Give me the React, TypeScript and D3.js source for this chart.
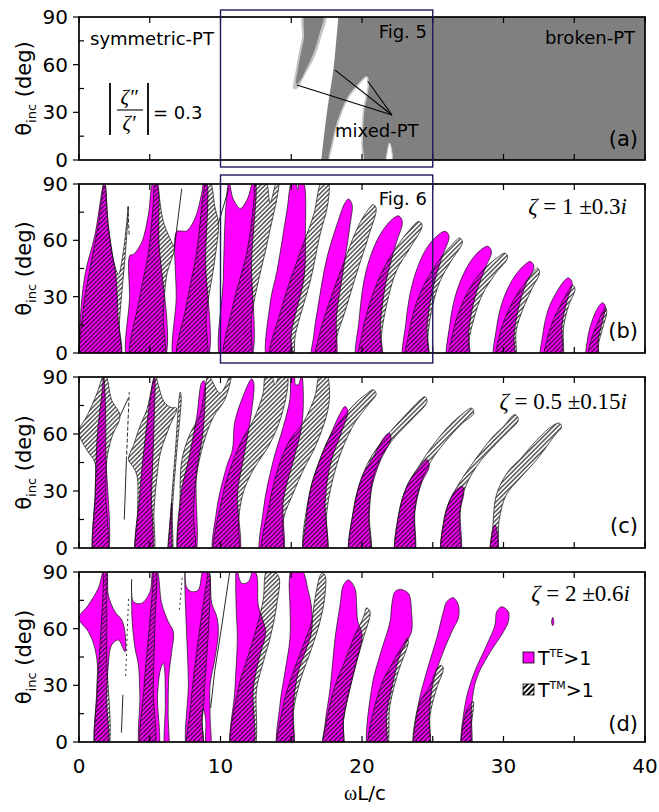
import React from 'react';
import * as d3 from 'd3';

type Pt = [number, number];

// axes
const xTickValues = [0, 10, 20, 30, 40];
const xMinorTicks = [0, 5, 10, 15, 20, 25, 30, 35, 40];
const yTickValues = [0, 30, 60, 90];
const yMinorTicks = [15, 45, 75];
const panelNames = ['(a)', '(b)', '(c)', '(d)'];

// panel (a): PT phase map
const brokenEdge: Pt[] = [[18.35, 92], [18.15, 72], [17.95, 55], [17.6, 35], [17.35, 18], [17.1, -2]];
const mixedArch: Pt[] = [[17.74, -3], [17.9, 10], [18.3, 24], [19.0, 39], [19.7, 47], [20.33, 52.4], [20.45, 48], [20.1, 30], [20.0, 10], [19.98, -3]];
const mixedSliver: Pt[] = [[21.74, -3], [21.8, 6], [21.95, 10.7], [22.1, 6], [22.1, -3]];
const brokenSliverEdge: Pt[] = [[15.85, 92], [15.75, 77], [15.5, 66], [15.3, 55.6], [15.15, 45], [15.35, 44.5], [16.1, 55.6], [16.7, 66], [17.1, 77], [17.45, 92]];
const brokenSliverCore: Pt[] = [[16.0, 92], [15.9, 77], [15.65, 66], [15.45, 56], [15.35, 48], [15.55, 49], [16.1, 58], [16.6, 68], [16.95, 78], [17.25, 92]];
const mixedLabelPoint: Pt = [22.12, 28.3];
const mixedTargets: Pt[] = [[15.4, 47.2], [18.1, 56.6], [20.4, 49.7]];

// panel (b): zeta = 1 +- 0.3i
const teB: Pt[][] = [
  [[0.07, -6], [0.07, 15], [0.42, 41.5], [1.13, 63], [1.8, 91], [2.07, 68], [2.42, 50], [2.6, 42], [2.75, 20], [2.8, -6]],
  [[3.56, -6], [3.57, 30], [3.6, 52], [3.84, 52.5], [4.43, 59], [4.9, 73.5], [5.25, 91], [5.5, 91], [5.65, 60], [5.87, -6]],
  [[6.85, -6], [6.87, 30], [6.9, 64.6], [7.2, 65], [7.6, 65], [8.2, 71.7], [8.67, 85], [8.83, 91], [9.0, 91], [8.95, 50], [8.9, -6]],
  [[10.15, -6], [10.2, 40], [10.4, 80], [10.6, 91], [10.9, 82], [11.4, 77], [11.9, 82], [12.3, 91], [12.45, 91], [12.2, 50], [11.97, -6]],
  [[13.4, -6], [13.5, 26], [14.0, 44], [14.7, 76], [15.05, 91], [15.3, 91], [15.45, 87], [15.6, 91], [15.85, 91], [16.0, 62], [15.9, 40], [15.0, 10], [15.0, -6]],
  [[16.5, -6], [16.6, 10], [16.9, 25], [17.5, 50], [18.3, 70], [18.8, 80], [19.05, 82], [19.3, 79], [19.15, 68], [18.7, 45], [18.2, 20], [18.0, -6]],
  [[19.7, -6], [19.8, 18], [20.3, 44], [21.2, 62], [22.1, 71], [22.6, 73], [22.85, 70], [22.4, 58], [21.7, 38], [21.3, 15], [21.3, -6]],
  [[23.0, -6], [23.1, 16], [23.6, 38], [24.5, 55], [25.4, 63], [25.9, 64.8], [26.15, 62], [25.7, 52], [25.0, 34], [24.6, 14], [24.6, -6]],
  [[26.1, -6], [26.2, 15], [26.7, 33], [27.6, 48], [28.4, 55], [28.9, 56.8], [29.15, 54], [28.7, 45], [28.0, 30], [27.55, 12], [27.5, -6]],
  [[29.4, -6], [29.5, 13], [30.0, 29], [30.8, 41], [31.5, 47], [31.9, 48.8], [32.15, 46], [31.6, 37], [31.1, 25], [30.75, 10], [30.7, -6]],
  [[32.7, -6], [32.8, 11], [33.2, 24], [33.8, 33], [34.3, 38.5], [34.6, 40], [34.85, 37.5], [34.5, 28], [34.15, 16], [34.0, -6]],
  [[35.9, -6], [35.95, 8], [36.3, 18], [36.7, 24.5], [37.0, 26.7], [37.2, 25], [37.0, 17], [36.7, 7], [36.65, -6]],
];
const tmB: Pt[][] = [
  [[0.3, -6], [0.3, 23], [0.78, 45], [1.36, 68], [1.8, 91], [2.07, 68], [2.42, 50], [2.78, 42], [3.15, 55], [3.49, 78], [3.3, 55], [3.0, 30], [2.85, 15], [2.8, -6]],
  [[3.72, -6], [4.3, 30], [4.9, 53], [5.25, 80], [5.35, 91], [5.55, 88], [5.96, 70], [6.55, 59], [6.74, 56], [6.2, 41.5], [5.96, 20], [5.89, -6]],
  [[7.0, -6], [7.6, 26], [8.3, 53], [8.8, 86], [8.95, 91], [9.26, 91], [9.6, 78], [9.85, 69], [9.6, 50], [9.0, 20], [8.9, -6]],
  [[10.3, -6], [10.9, 26], [11.85, 53], [12.35, 80], [12.5, 91], [13.2, 91], [13.5, 80], [13.97, 91], [14.1, 91], [13.4, 62], [12.7, 39], [12.2, 20], [11.97, -6]],
  [[13.5, -6], [14.4, 26], [15.6, 53], [16.6, 74], [17.15, 91], [17.6, 91], [17.6, 80], [17.0, 62], [16.4, 40], [15.3, 10], [15.0, -6]],
  [[16.7, -6], [17.0, 10], [17.6, 25], [18.8, 50], [19.7, 67], [20.4, 76], [20.8, 79], [21.0, 77], [20.5, 63], [19.6, 42], [18.8, 22], [18.2, 8], [18.0, -6]],
  [[19.8, -6], [20.0, 10], [20.7, 30], [21.6, 46], [22.5, 57], [23.3, 65], [24.0, 70], [24.25, 68], [23.4, 56], [22.45, 44], [21.75, 26], [21.35, 8], [21.3, -6]],
  [[23.1, -6], [23.3, 10], [23.9, 28], [24.8, 42], [25.7, 52], [26.4, 58], [26.9, 61.3], [27.1, 59], [26.3, 49], [25.5, 38], [24.9, 22], [24.65, 8], [24.6, -6]],
  [[26.2, -6], [26.4, 10], [27.0, 25], [27.9, 38], [28.8, 46], [29.6, 51], [30.1, 53.2], [30.3, 51], [29.4, 42], [28.5, 31], [27.9, 18], [27.55, 6], [27.5, -6]],
  [[29.5, -6], [29.7, 9], [30.3, 22], [31.1, 33], [31.8, 40], [32.4, 45.2], [32.55, 43], [32.0, 34], [31.4, 24], [30.9, 12], [30.75, -6]],
  [[32.9, -6], [33.1, 8], [33.6, 19], [34.2, 28], [34.9, 36.2], [35.05, 34], [34.6, 25], [34.25, 14], [34.05, -6]],
  [[36.0, -6], [36.15, 6], [36.6, 15], [37.2, 24.2], [37.3, 22], [37.0, 13], [36.7, 4], [36.65, -6]],
];
const solidB: Pt[][] = [[[6.74, 56], [7.26, 87.5]], [[9.85, 69], [10.6, 88]]];
const dashedB: Pt[][] = [[[3.45, 78], [3.55, 62]]];

// panel (c): zeta = 0.5 +- 0.15i
const teC: Pt[][] = [
  [[1.13, -6], [1.15, 30], [1.3, 60], [1.6, 80], [1.75, 90], [1.85, 80], [1.9, 50], [1.9, -6]],
  [[4.12, -6], [4.3, 29], [4.78, 64], [5.2, 87], [5.35, 91], [5.3, 64], [5.13, 29], [5.02, -6]],
  [[6.35, -6], [6.42, 12], [6.55, 24], [6.55, 10], [6.5, -6]],
  [[7.14, -6], [7.2, 28], [7.73, 46], [8.32, 69], [8.67, 87], [8.85, 88], [8.8, 64], [8.3, 38], [8.08, -6]],
  [[9.6, -6], [9.73, 20], [10.44, 43], [10.85, 52], [11.0, 66], [11.6, 80], [12.2, 89], [12.35, 87], [12.2, 72], [11.6, 46], [11.2, 29], [11.2, -6]],
  [[12.9, -6], [13.03, 20], [13.73, 46], [14.44, 64], [14.9, 78], [15.03, 91], [15.2, 91], [15.3, 86], [15.5, 86], [15.74, 91], [15.85, 82], [15.74, 64], [15.15, 46], [14.44, 25], [14.3, -6]],
  [[15.97, -6], [16.05, 15], [16.3, 29], [17.0, 46], [17.74, 59], [18.4, 70], [18.8, 74.5], [19.0, 72], [18.5, 60], [17.8, 45], [17.4, 25], [17.4, -6]],
  [[19.2, -6], [19.4, 20], [20.0, 37.5], [20.8, 48], [21.6, 58.6], [21.93, 60.5], [22.05, 57.5], [21.3, 46], [20.7, 32], [20.5, 15], [20.5, -6]],
  [[22.45, -6], [22.6, 18], [23.2, 33], [24.0, 42], [24.6, 46.5], [24.75, 43], [24.2, 34], [23.75, 20], [23.6, -6]],
  [[25.7, -6], [25.8, 15], [26.2, 25], [26.7, 31], [27.1, 32.5], [27.2, 29], [26.95, 20], [26.85, -6]],
  [[29.1, -6], [29.2, 8], [29.4, 12.2], [29.55, 9], [29.5, -6]],
];
const tmC: Pt[][] = [
  [[1.13, -6], [1.15, 30], [1.12, 45], [0.6, 51], [0.0, 61], [0.6, 70], [1.3, 82], [1.75, 91], [1.9, 91], [2.3, 78], [2.9, 69.5], [2.4, 60], [2.19, 55], [1.96, 46], [1.9, 29], [1.9, -6]],
  [[4.12, -6], [4.15, 20], [4.1, 38], [3.8, 43], [3.5, 46.5], [3.9, 55], [4.3, 64], [4.8, 73], [5.25, 88], [5.4, 91], [5.6, 86], [6.0, 77], [6.5, 74], [6.9, 73.5], [6.4, 64], [5.75, 50], [5.5, 37], [5.3, 20], [5.15, -6]],
  [[6.35, -6], [6.5, 20], [6.8, 50], [7.15, 82], [7.22, 80], [6.9, 50], [6.6, 20], [6.55, -6]],
  [[7.14, -6], [7.14, 24], [7.26, 46], [7.84, 60], [8.55, 70], [8.9, 84], [9.14, 91], [9.4, 88], [9.96, 81.5], [10.4, 86], [10.67, 91], [10.75, 91], [10.3, 78], [9.5, 69], [8.8, 55], [8.3, 38], [8.1, 20], [8.08, -6]],
  [[9.65, -6], [10.2, 29], [10.9, 46], [11.6, 58], [12.3, 67], [13.0, 81], [13.2, 91], [13.6, 91], [13.85, 86], [14.2, 91], [14.7, 91], [14.44, 73], [13.5, 55], [12.3, 41], [11.6, 29], [11.27, 14], [11.2, -6]],
  [[13.0, -6], [13.5, 25], [14.2, 45], [15.0, 58], [15.85, 66], [16.68, 80], [17.03, 91], [17.5, 91], [17.7, 84], [17.6, 73], [16.8, 55], [15.85, 41], [15.15, 29], [14.44, 15], [14.3, -6]],
  [[16.0, -6], [16.3, 29], [17.0, 46], [17.74, 59], [18.6, 68], [19.5, 76], [20.3, 81], [20.8, 83.3], [21.0, 81], [20.4, 75], [19.5, 66], [18.6, 52], [17.9, 35], [17.5, 18], [17.4, -6]],
  [[19.2, -6], [19.4, 20], [20.0, 37.5], [20.8, 49.8], [22.0, 61.2], [23.4, 72.6], [24.1, 77.9], [24.45, 79.6], [24.6, 77], [23.6, 68.2], [22.45, 59.5], [21.5, 49.8], [20.8, 37.5], [20.5, 20], [20.5, -6]],
  [[22.45, -6], [22.6, 18], [23.2, 33], [24.1, 44], [25.0, 54], [26.0, 63], [27.0, 70], [27.75, 73.6], [27.9, 71], [27.0, 65], [25.9, 56], [24.9, 46], [24.1, 33], [23.7, 18], [23.6, -6]],
  [[25.7, -6], [25.8, 15], [26.2, 25], [26.7, 32], [27.16, 37.5], [28.34, 50], [29.3, 59], [30.0, 64], [30.8, 70.2], [31.05, 67.4], [30.3, 61], [29.5, 55], [28.1, 43], [27.16, 29], [26.88, 15], [26.85, -6]],
  [[29.1, -6], [29.25, 12], [29.5, 28], [30.3, 40], [31.2, 47], [32.5, 58], [33.4, 64], [33.95, 65.7], [34.1, 63.5], [33.7, 60], [32.4, 47], [31.2, 37], [30.2, 28], [29.7, 15], [29.5, -6]],
];
const solidC: Pt[][] = [[[3.2, 15], [3.35, 46]], [[2.9, 69.5], [3.5, 79]]];
const dashedC: Pt[][] = [[[3.35, 46], [3.55, 82]]];

// panel (d): zeta = 2 +- 0.6i
const teD: Pt[][] = [
  [[1.25, -6], [1.25, 27], [1.3, 40.8], [1.06, 51.3], [0.66, 58.4], [0.0, 65.6], [0.66, 72.5], [1.37, 81.5], [1.77, 91], [1.95, 91], [2.07, 77.8], [2.54, 69], [3.02, 64.6], [3.25, 58], [3.25, 47.8], [2.78, 54], [2.31, 51.3], [2.07, 40.8], [1.96, 23.3], [1.96, -6]],
  [[4.43, -6], [4.3, 25], [4.2, 40.8], [3.96, 49.6], [3.75, 65], [3.72, 78], [3.72, 86], [3.84, 74.3], [4.43, 73.5], [5.02, 79.6], [5.25, 91], [5.49, 91], [5.84, 73.5], [6.31, 63.7], [6.67, 58.4], [6.55, 47.8], [6.35, 35], [6.3, 15], [6.3, -6], [6.1, -6], [6.1, 20], [6.05, 38], [5.96, 41.7], [5.75, 38], [5.55, 25], [5.5, -6]],
  [[7.73, -6], [7.73, 32], [7.6, 58.4], [7.49, 80], [7.49, 91], [7.6, 82], [7.96, 79.6], [8.43, 80.5], [8.79, 91], [9.14, 91], [9.38, 73.5], [9.73, 66.5], [9.85, 58.4], [9.61, 44.3], [9.26, 30], [9.26, 15], [9.26, -6], [9.02, -6], [8.95, 12], [8.79, 17.6], [8.7, 12], [8.67, -6]],
  [[10.84, -6], [11.02, 28], [11.19, 55], [11.1, 72.5], [11.14, 91], [11.5, 84], [11.97, 84.9], [12.32, 91], [12.56, 88.4], [12.67, 72.5], [13.03, 63.7], [13.2, 58], [12.79, 46], [12.32, 28.4], [12.2, -6]],
  [[14.09, -6], [14.2, 19.6], [14.56, 37.2], [14.91, 55], [14.91, 72.5], [14.86, 85], [15.03, 91], [15.74, 91], [16.2, 80], [16.44, 70.8], [16.44, 58.4], [16.09, 49.6], [15.5, 37.2], [15.15, 19.6], [15.03, -6]],
  [[17.3, -6], [17.4, 10], [17.74, 28], [18.1, 55], [18.45, 72.5], [18.68, 83], [19.04, 85.8], [19.5, 81.4], [19.62, 72], [19.7, 64], [20.0, 57], [19.6, 42], [19.15, 28.4], [18.7, 12], [18.56, -6]],
  [[20.52, -6], [20.68, 28.4], [21.27, 46], [21.98, 63.7], [22.1, 72.5], [22.33, 79.6], [22.69, 80.8], [23.28, 78.7], [23.5, 69], [23.5, 58.4], [23.16, 53.1], [22.69, 46], [22.1, 28.4], [21.74, 14.3], [21.63, -6]],
  [[23.75, -6], [23.98, 19.6], [24.57, 37.2], [25.28, 54.9], [25.75, 69], [25.99, 74.3], [26.46, 76.4], [26.81, 72.5], [26.81, 65.5], [26.46, 60.2], [25.75, 47.8], [25.04, 31.9], [24.76, 14.3], [24.69, -6]],
  [[27.1, -6], [27.28, 19.6], [27.87, 35.5], [28.81, 51.3], [29.4, 62], [29.52, 69], [29.87, 71.6], [30.34, 69], [30.34, 63.7], [30.0, 58.4], [28.93, 46], [28.1, 33.7], [27.75, 19.6], [27.63, -6]],
  [[33.4, 63.5], [33.48, 66], [33.56, 63.5], [33.48, 61.5]],
];
const tmD: Pt[][] = [
  [[1.25, -6], [1.3, 28.4], [1.55, 58.4], [1.72, 83], [1.77, 91], [1.9, 91], [1.96, 72.5], [1.96, 46], [1.96, -6]],
  [[4.43, -6], [4.59, 28.4], [4.9, 54.9], [5.2, 81.3], [5.3, 91], [5.44, 91], [5.37, 63.7], [5.25, 28.4], [5.25, -6]],
  [[7.73, -6], [7.9, 20], [8.2, 40.8], [8.67, 67.3], [9.02, 85], [9.15, 91], [9.26, 88], [9.14, 58.4], [8.9, 32], [8.79, 17.6], [8.7, 12], [8.67, -6]],
  [[10.84, -6], [11.26, 28.4], [11.97, 46], [12.67, 63.7], [13.03, 76], [13.15, 88.4], [13.3, 91], [14.09, 88], [13.97, 72.5], [13.5, 54.9], [13.03, 42.5], [12.56, 28.4], [12.25, -6]],
  [[14.09, -6], [14.44, 19.6], [15.15, 37.2], [15.85, 51.3], [16.44, 63.7], [16.68, 76], [17.15, 89.3], [17.38, 88.4], [17.38, 77.8], [17.03, 63.7], [16.44, 49.6], [15.62, 32], [15.15, 16], [15.03, -6]],
  [[17.3, -6], [17.6, 15], [18.1, 30], [18.8, 43], [19.4, 55], [20.1, 66], [20.33, 71], [20.57, 69], [20.1, 55], [19.6, 42], [19.15, 28.4], [18.7, 12], [18.56, -6]],
  [[20.52, -6], [21.27, 28.4], [22.2, 42.5], [23.04, 53.1], [23.2, 54.9], [23.28, 53.1], [22.57, 37.2], [21.98, 19.6], [21.63, -6]],
  [[23.75, -6], [24.0, 19.6], [24.81, 29.8], [25.4, 39.9], [25.63, 40.5], [25.75, 39], [25.28, 28.4], [24.81, 14.3], [24.69, -6]],
  [[27.1, -6], [27.28, 14.3], [27.63, 19.6], [27.87, 21.4], [27.87, 17.8], [27.7, 7.2], [27.63, -6]],
];
const solidD: Pt[][] = [[[3.0, 5], [3.1, 25]], [[9.3, 18], [9.6, 38], [10.1, 62], [10.67, 91]]];
const dashedD: Pt[][] = [[[3.3, 35], [3.5, 76]], [[7.1, 70], [7.3, 88]]];

const MAGENTA = '#ff00ff';
const NAVY = '#1c1c5e';
const SANS = 'DejaVu Sans';
const SERIF = 'Liberation Serif';

const boxes = [
  { top: 17, bottom: 160 },
  { top: 184, bottom: 353 },
  { top: 377, bottom: 548 },
  { top: 572, bottom: 742 },
];

export default function App() {
  const x = d3.scaleLinear().domain([0, 40]).range([79, 645]);
  const ys = boxes.map((b) => d3.scaleLinear().domain([0, 90]).range([b.bottom, b.top]));

  const closed = (y: d3.ScaleLinear<number, number>) =>
    d3.line<Pt>().x((d) => x(d[0])).y((d) => y(d[1])).curve(d3.curveCatmullRomClosed.alpha(0.5));
  const open = (y: d3.ScaleLinear<number, number>) =>
    d3.line<Pt>().x((d) => x(d[0])).y((d) => y(d[1])).curve(d3.curveCatmullRom.alpha(0.5));
  const straight = (y: d3.ScaleLinear<number, number>) =>
    d3.line<Pt>().x((d) => x(d[0])).y((d) => y(d[1]));

  const lobes = (i: number, te: Pt[][], tm: Pt[][], solid: Pt[][], dashed: Pt[][], dash: string) => {
    const y = ys[i];
    const c = closed(y);
    const s = straight(y);
    return (
      <g clipPath={`url(#clip${i})`}>
        {te.map((p, k) => (
          <path key={`te${k}`} d={c(p) || ''} fill={MAGENTA} stroke="#111" strokeWidth={0.7} />
        ))}
        {tm.map((p, k) => (
          <path key={`tm${k}`} d={c(p) || ''} fill="url(#hatch)" stroke="#111" strokeWidth={0.7} />
        ))}
        {solid.map((p, k) => (
          <path key={`s${k}`} d={s(p) || ''} fill="none" stroke="#111" strokeWidth={0.9} />
        ))}
        {dashed.map((p, k) => (
          <path key={`d${k}`} d={s(p) || ''} fill="none" stroke="#111" strokeWidth={0.9} strokeDasharray={dash} />
        ))}
      </g>
    );
  };

  const frame = (i: number) => {
    const y = ys[i];
    const { top, bottom } = boxes[i];
    const cy = (top + bottom) / 2;
    return (
      <g key={`frame${i}`}>
        <rect x={x(0)} y={top} width={x(40) - x(0)} height={bottom - top} fill="none" stroke="#000" strokeWidth={1.7} />
        {xMinorTicks.map((v) => (
          <g key={`xt${v}`}>
            <line x1={x(v)} x2={x(v)} y1={bottom} y2={bottom - 6} stroke="#000" strokeWidth={1.2} />
            <line x1={x(v)} x2={x(v)} y1={top} y2={top + 6} stroke="#000" strokeWidth={1.2} />
          </g>
        ))}
        {yTickValues.map((v) => (
          <g key={`yt${v}`}>
            <line x1={x(0) - 6} x2={x(0)} y1={y(v)} y2={y(v)} stroke="#000" strokeWidth={1.2} />
            <text x={68} y={y(v) + 7} textAnchor="end" fontFamily={SANS} fontSize={20}>{v}</text>
          </g>
        ))}
        {yMinorTicks.map((v) => (
          <line key={`ym${v}`} x1={x(0)} x2={x(0) + 5} y1={y(v)} y2={y(v)} stroke="#000" strokeWidth={1.2} />
        ))}
        <text transform={`translate(31,${cy}) rotate(-90)`} textAnchor="middle" fontFamily={SANS} fontSize={21}>
          θ<tspan fontSize={13} dy={5}>inc</tspan><tspan dy={-5}> (deg)</tspan>
        </text>
        <text x={638} y={[146, 338, 533, 731][i]} textAnchor="end" fontFamily={SANS} fontSize={21}>{panelNames[i]}</text>
      </g>
    );
  };

  const ya = ys[0];
  const ca = closed(ya);
  const brokenPath = (open(ya)(brokenEdge) || '') + `L${x(41)},${ya(-2)}L${x(41)},${ya(92)}Z`;

  const zeta = (label: string, xe: number, yb: number) => (
    <text x={xe} y={yb} textAnchor="end" fontFamily={SERIF} fontSize={23}>
      <tspan fontStyle="italic">ζ</tspan>
      {label}
      <tspan fontStyle="italic">i</tspan>
    </text>
  );

  return (
    <svg width={659} height={812} style={{ position: 'absolute', left: 0, top: 0, background: '#fff' }}>
      <defs>
        {boxes.map((b, i) => (
          <clipPath id={`clip${i}`} key={i}>
            <rect x={x(0)} y={b.top} width={x(40) - x(0)} height={b.bottom - b.top} />
          </clipPath>
        ))}
        <pattern id="hatch" width={3.2} height={3.2} patternUnits="userSpaceOnUse" patternTransform="rotate(45)">
          <line x1={1.6} y1={0} x2={1.6} y2={3.2} stroke="#000" strokeWidth={1} />
        </pattern>
        <pattern id="hatchBold" width={3.8} height={3.8} patternUnits="userSpaceOnUse" patternTransform="rotate(45)">
          <line x1={1.9} y1={0} x2={1.9} y2={3.8} stroke="#000" strokeWidth={1.9} />
        </pattern>
      </defs>

      {/* panel (a) */}
      <g clipPath="url(#clip0)">
        <path d={brokenPath} fill="#808080" />
        <path d={ca(mixedArch) || ''} fill="#fff" stroke="#c8c8c8" strokeWidth={1.6} />
        <path d={ca(mixedSliver) || ''} fill="#fff" stroke="#c8c8c8" strokeWidth={1} />
        <path d={ca(brokenSliverEdge) || ''} fill="#c4c4c4" />
        <path d={ca(brokenSliverCore) || ''} fill="#808080" />
        {mixedTargets.map((t, k) => (
          <line key={k} x1={x(mixedLabelPoint[0])} y1={ya(mixedLabelPoint[1])} x2={x(t[0])} y2={ya(t[1])} stroke="#000" strokeWidth={1.1} />
        ))}
      </g>
      <text x={90} y={45} fontFamily={SANS} fontSize={18}>symmetric-PT</text>
      <text x={635} y={44} textAnchor="end" fontFamily={SANS} fontSize={18}>broken-PT</text>
      <text x={427} y={38} textAnchor="end" fontFamily={SANS} fontSize={18}>Fig. 5</text>
      <text x={335} y={137} fontFamily={SANS} fontSize={18}>mixed-PT</text>
      <line x1={110} x2={110} y1={83} y2={135} stroke="#000" strokeWidth={1.8} />
      <line x1={148} x2={148} y1={83} y2={135} stroke="#000" strokeWidth={1.8} />
      <line x1={117} x2={143} y1={110} y2={110} stroke="#000" strokeWidth={1.1} />
      <text x={129} y={104} textAnchor="middle" fontFamily={SERIF} fontStyle="italic" fontSize={21}>ζ″</text>
      <text x={129} y={130} textAnchor="middle" fontFamily={SERIF} fontStyle="italic" fontSize={21}>ζ′</text>
      <text x={153} y={119} fontFamily={SANS} fontSize={18}>= 0.3</text>

      {/* panels (b)-(d) */}
      {lobes(1, teB, tmB, solidB, dashedB, '4,2')}
      {lobes(2, teC, tmC, solidC, dashedC, '4,2')}
      {lobes(3, teD, tmD, solidD, dashedD, '2,3')}

      {[0, 1, 2, 3].map((i) => frame(i))}

      <text x={427} y={205} textAnchor="end" fontFamily={SANS} fontSize={18}>Fig. 6</text>
      {zeta(' = 1 \u00b10.3', 627, 214)}
      {zeta(' = 0.5 \u00b10.15', 627, 409)}
      {zeta(' = 2 \u00b10.6', 630, 601)}

      {/* legend */}
      <rect x={523} y={652} width={11} height={11} fill={MAGENTA} stroke="#000" strokeWidth={0.8} />
      <text x={538} y={665} fontFamily={SANS} fontSize={19}>
        T<tspan fontSize={11} dy={-8}>TE</tspan><tspan dy={8}>&gt;1</tspan>
      </text>
      <rect x={523} y={684} width={11} height={11} fill="url(#hatchBold)" stroke="#000" strokeWidth={0.8} />
      <text x={538} y={697} fontFamily={SANS} fontSize={19}>
        T<tspan fontSize={11} dy={-8}>TM</tspan><tspan dy={8}>&gt;1</tspan>
      </text>

      {/* zoom boxes */}
      <rect x={x(10)} y={10} width={x(25) - x(10)} height={157} fill="none" stroke={NAVY} strokeWidth={1.4} />
      <rect x={x(10)} y={175} width={x(25) - x(10)} height={188} fill="none" stroke={NAVY} strokeWidth={1.4} />

      {/* x axis */}
      {xTickValues.map((v) => (
        <text key={v} x={x(v)} y={773} textAnchor="middle" fontFamily={SANS} fontSize={20}>{v}</text>
      ))}
      <text x={365} y={800} textAnchor="middle" fontSize={20}>
        <tspan fontFamily={SERIF}>ω</tspan><tspan fontFamily={SANS}>L/c</tspan>
      </text>
    </svg>
  );
}
